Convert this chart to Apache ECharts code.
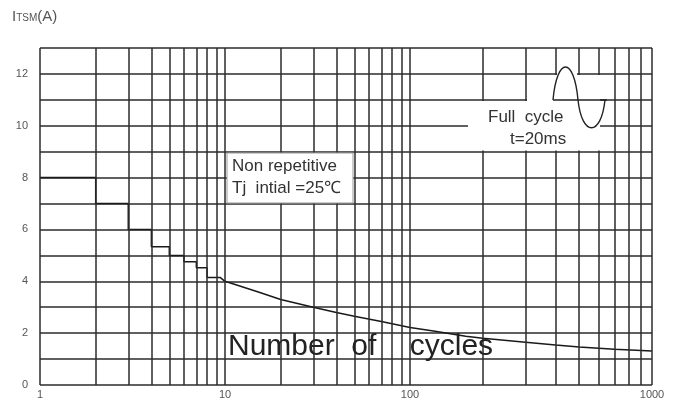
<!DOCTYPE html>
<html><head><meta charset="utf-8">
<script src="https://cdn.jsdelivr.net/npm/echarts@6/dist/echarts.min.js"></script>
<style>html,body{margin:0;padding:0;background:#fff;}#c{width:678px;height:403px;}</style>
</head><body><div id="c"></div>
<script>
// ---- data ----
const cyclesLow = [1, 2, 2, 3, 3, 4, 4, 5, 5, 6, 6, 7, 7, 8, 8, 9.4, 10, 15, 20, 30, 40, 50, 70, 100];
const itsmLow   = [8, 8, 7, 7, 6, 6, 5.33, 5.33, 5.0, 5.0, 4.75, 4.75, 4.52, 4.52, 4.15, 4.15, 4.0, 3.6, 3.3, 3.0, 2.8, 2.65, 2.45, 2.22];
const cyclesHigh = [100, 125, 170, 200, 300, 400, 500, 700, 1000];
const itsmHigh   = [2.22, 2.08, 1.88, 1.8, 1.65, 1.54, 1.47, 1.38, 1.31];
const gridCyclesLow  = [1, 2, 3, 4, 5, 6, 7, 8, 9, 10, 20, 30, 40, 50, 60, 70, 80, 90, 100];
const gridCyclesHigh = [200, 300, 400, 500, 600, 700, 800, 900, 1000];
const yTickLabels = [0, 2, 4, 6, 8, 10, 12];

const FONT = '"Liberation Sans", Arial, sans-serif';
const GRID_COLOR = '#2b2b2b';
const chart = echarts.init(document.getElementById('c'), null, {renderer: 'canvas'});

function zip(xs, ys) { return xs.map((x, i) => [x, ys[i]]); }
function vLines(list) {
  return {
    silent: true, symbol: ['none', 'none'], animation: false,
    label: {show: false},
    lineStyle: {color: GRID_COLOR, width: 1.5, type: 'solid'},
    data: list.map(v => ({xAxis: v}))
  };
}
const yAxisBase = {
  type: 'value', min: 0, max: 13, interval: 1,
  axisLine: {show: false}, axisTick: {show: false},
  splitLine: {show: true, lineStyle: {color: GRID_COLOR, width: 1.5}}
};
const xLabel = {color: '#555', fontSize: 11, fontFamily: FONT, margin: 4, formatter: v => String(Math.round(v))};
const xAxisBase = {
  type: 'log', logBase: 10,
  axisLine: {show: false}, axisTick: {show: false}, splitLine: {show: false},
  axisLabel: xLabel
};

const option = {
  animation: false,
  backgroundColor: '#fff',
  grid: [
    {left: 40, top: 48, width: 370, height: 337},
    {left: 410, top: 48, width: 242, height: 337}
  ],
  xAxis: [
    Object.assign({}, xAxisBase, {gridIndex: 0, min: 1, max: 100}),
    Object.assign({}, xAxisBase, {gridIndex: 1, min: 100, max: 1000,
      axisLabel: Object.assign({}, xLabel, {showMinLabel: false})})
  ],
  yAxis: [
    Object.assign({}, yAxisBase, {gridIndex: 0,
      axisLabel: {color: '#555', fontSize: 11, fontFamily: FONT, margin: 12,
        formatter: v => yTickLabels.includes(v) ? String(v) : ''}}),
    Object.assign({}, yAxisBase, {gridIndex: 1, axisLabel: {show: false}})
  ],
  series: [
    {type: 'line', xAxisIndex: 0, yAxisIndex: 0, data: zip(cyclesLow, itsmLow),
      symbol: 'none', lineStyle: {color: '#1a1a1a', width: 1.5}, markLine: vLines(gridCyclesLow), z: 3},
    {type: 'line', xAxisIndex: 1, yAxisIndex: 1, data: zip(cyclesHigh, itsmHigh),
      symbol: 'none', lineStyle: {color: '#1a1a1a', width: 1.5}, markLine: vLines(gridCyclesHigh), z: 3}
  ],
  graphic: [
    {type: 'text', x: 12, y: 9, z: 100, style: {
      text: '{a|I}{b|TSM}{a|(A)}', fill: '#555',
      rich: {a: {fontSize: 15, fontFamily: FONT, fill: '#555', verticalAlign: 'bottom'},
             b: {fontSize: 10, fontFamily: FONT, fill: '#555', verticalAlign: 'bottom', padding: [0, 0, 1, 0]}}
    }},
    // Non repetitive box
    {type: 'rect', z: 100, shape: {x: 227, y: 153, width: 126, height: 50},
      style: {fill: '#fff', stroke: '#999', lineWidth: 1}},
    {type: 'text', z: 101, style: {text: 'Non repetitive', x: 232, y: 166, fill: '#333',
      font: '17px ' + FONT, verticalAlign: 'middle'}},
    {type: 'text', z: 101, style: {text: 'Tj  intial =25\u2103', x: 232, y: 188, fill: '#333',
      font: '17px ' + FONT, verticalAlign: 'middle'}},
    // Full cycle area
    {type: 'rect', z: 100, shape: {x: 468, y: 101, width: 132, height: 49.5}, style: {fill: '#fff'}},
    {type: 'rect', z: 100, shape: {x: 527, y: 75, width: 73, height: 26}, style: {fill: '#fff'}},
    {type: 'rect', z: 100, shape: {x: 557, y: 62, width: 20, height: 14}, style: {fill: '#fff'}},
    {type: 'bezierCurve', z: 101, shape: {x1: 553, y1: 100, cpx1: 557, cpy1: 56, cpx2: 574, cpy2: 56, x2: 578, y2: 100},
      style: {stroke: '#222', lineWidth: 1.4, fill: null}},
    {type: 'bezierCurve', z: 101, shape: {x1: 578, y1: 100, cpx1: 582, cpy1: 137, cpx2: 601, cpy2: 137, x2: 605, y2: 100},
      style: {stroke: '#222', lineWidth: 1.4, fill: null}},
    {type: 'line', z: 101, shape: {x1: 553, y1: 100, x2: 607, y2: 100}, style: {stroke: '#222', lineWidth: 1.5}},
    {type: 'text', z: 101, style: {text: 'Full  cycle', x: 488, y: 117, fill: '#333',
      font: '17px ' + FONT, verticalAlign: 'middle'}},
    {type: 'text', z: 101, style: {text: 't=20ms', x: 510, y: 139, fill: '#333',
      font: '17px ' + FONT, verticalAlign: 'middle'}},
    // axis title
    {type: 'text', z: 101, style: {text: 'Number  of    cycles', x: 228, y: 347, fill: '#222',
      font: '30px ' + FONT, verticalAlign: 'middle'}}
  ]
};
chart.setOption(option);
</script>
</body></html>
